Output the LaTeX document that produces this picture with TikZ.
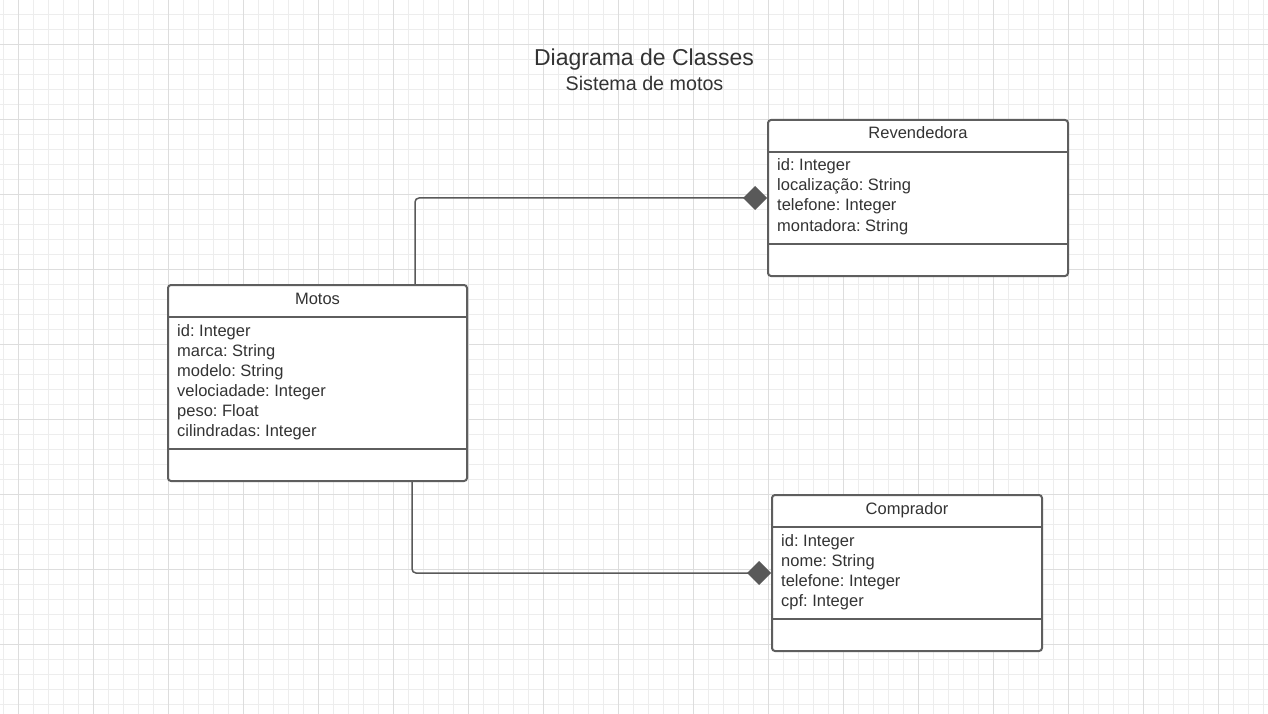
\documentclass[tikz,border=0pt]{standalone}
\usepackage{fontspec}
\setmainfont{Liberation Sans}
\usetikzlibrary{arrows.meta,calc}
\frenchspacing
\definecolor{gridminor}{HTML}{EDEDED}
\definecolor{gridmajor}{HTML}{DDDDDD}
\definecolor{boxline}{HTML}{5E5E5E}
\definecolor{txt}{HTML}{333333}
\definecolor{conncol}{HTML}{595959}
\tikzset{
 minorline/.style={draw=gridminor,line width=1pt},
 majorline/.style={draw=gridmajor,line width=1pt},
 classbox/.style={draw=boxline,line width=2pt,rounded corners=3pt,fill=white,inner sep=0pt},
 sepline/.style={draw=boxline,line width=2pt},
 attr/.style={anchor=base west,inner sep=0pt,text=txt,font=\frenchspacing\fontsize{16.5}{20}\selectfont},
 hdr/.style={anchor=base,inner sep=0pt,text=txt,font=\frenchspacing\fontsize{16.5}{20}\selectfont},
 conn/.style={draw=conncol,line width=1.5pt,rounded corners=4pt,-{Diamond[length=24pt,width=24pt,fill=conncol]}}
}
\begin{document}
\begin{tikzpicture}[x=1pt,y=-1pt]
\useasboundingbox (0,0) rectangle (1268,714);
\fill[white] (0,0) rectangle (1268,714);
% grid
\foreach \i in {0,...,84} {\draw[minorline] (3.5+15*\i,0) -- (3.5+15*\i,714);}
\foreach \j in {1,...,47} {\draw[minorline] (0,-0.5+15*\j) -- (1268,-0.5+15*\j);}
\foreach \i in {0,...,16} {\draw[majorline] (18.5+75*\i,0) -- (18.5+75*\i,714);}
\foreach \j in {0,...,8} {\draw[majorline] (0,44.5+75*\j) -- (1268,44.5+75*\j);}

% title
\node[anchor=base,inner sep=0pt,text=txt,font=\fontsize{23}{28}\selectfont] (title) at (644,65.5) {Diagrama de Classes};
\node[anchor=base,inner sep=0pt,text=txt,font=\fontsize{19.7}{24}\selectfont] (subtitle) at (644.5,91) {Sistema de motos};

% class boxes
\node[classbox,minimum width=300pt,minimum height=156pt] (revend) at (918,198) {};
\node[classbox,minimum width=299pt,minimum height=196pt] (motos) at (317.5,383) {};
\node[classbox,minimum width=270pt,minimum height=156pt] (compr) at (907,573) {};

% separators
\draw[sepline] (768,152) -- (1068,152);
\draw[sepline] (768,244) -- (1068,244);
\draw[sepline] (168,317) -- (467,317);
\draw[sepline] (168,449) -- (467,449);
\draw[sepline] (772,527) -- (1042,527);
\draw[sepline] (772,619) -- (1042,619);

% Revendedora
\node[hdr] (revendname) at (918,139) {Revendedora};
\node[attr] (r1) at (777,171) {id: Integer};
\node[attr] (r2) at (777,191) {localização: String};
\node[attr] (r3) at (777,211) {telefone: Integer};
\node[attr] (r4) at (777,231) {montadora: String};

% Motos
\node[hdr] (motosname) at (317.5,304) {Motos};
\node[attr] (m1) at (177,336) {id: Integer};
\node[attr] (m2) at (177,356) {marca: String};
\node[attr] (m3) at (177,376) {modelo: String};
\node[attr] (m4) at (177,396) {velociadade: Integer};
\node[attr] (m5) at (177,416) {peso: Float};
\node[attr] (m6) at (177,436) {cilindradas: Integer};

% Comprador
\node[hdr] (comprname) at (907,514) {Comprador};
\node[attr] (c1) at (781,546) {id: Integer};
\node[attr] (c2) at (781,566) {nome: String};
\node[attr] (c3) at (781,586) {telefone: Integer};
\node[attr] (c4) at (781,606) {cpf: Integer};

% connectors
\coordinate (mtop) at (415,0);
\coordinate (mbot) at (412,0);
\draw[conn] (motos.north -| mtop) |- (revend.west);
\draw[conn] (motos.south -| mbot) |- (compr.west);
\end{tikzpicture}
\end{document}
